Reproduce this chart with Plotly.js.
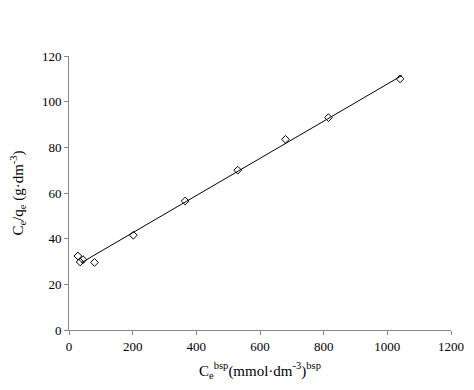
<!DOCTYPE html>
<html>
<head>
<meta charset="utf-8">
<script src="https://cdn.plot.ly/plotly-3.0.1.min.js"></script>
<style>html,body{margin:0;padding:0;background:#fff;}#chart{width:474px;height:390px;}</style>
</head>
<body>
<div id="chart"></div>
<script>
const ceValues = [28, 35, 44, 80, 202, 365, 530, 680, 815, 1040];
const ratioValues = [32.4, 29.8, 30.8, 29.6, 41.5, 56.5, 70.0, 83.5, 93.0, 110.0];
const fitX = [38, 1045];
const fitY = [29.4, 111.4];
const xTicks = [0, 200, 400, 600, 800, 1000, 1200];
const yTicks = [0, 20, 40, 60, 80, 100, 120];

const serif = "Liberation Serif, Times New Roman, serif";
const data = [
  {x: fitX, y: fitY, mode: 'lines', type: 'scatter', line: {color: '#000', width: 1}, hoverinfo: 'skip'},
  {x: ceValues, y: ratioValues, mode: 'markers', type: 'scatter',
   marker: {symbol: 'diamond-open', size: 6, color: '#000', line: {width: 1, color: '#000'}}}
];
const layout = {
  width: 474, height: 390,
  margin: {l: 69, r: 23, t: 56, b: 60},
  showlegend: false,
  paper_bgcolor: '#fff', plot_bgcolor: '#fff',
  font: {family: serif, size: 13, color: '#000'},
  xaxis: {
    range: [0, 1200], tickvals: xTicks, ticktext: xTicks.map(String),
    showgrid: false, zeroline: false, showline: true, linecolor: '#888', linewidth: 1,
    ticks: 'outside', ticklen: 4, tickcolor: '#888',
    tickfont: {family: serif, size: 13, color: '#000'},
    title: {text: 'C<sub>e</sub><sup>bsp</sup>(mmol·dm<sup>-3</sup>)<sup>bsp</sup>', font: {family: serif, size: 15, color: '#000'}, standoff: 12}
  },
  yaxis: {
    range: [0, 120], tickvals: yTicks, ticktext: yTicks.map(String),
    showgrid: false, zeroline: false, showline: true, linecolor: '#888', linewidth: 1,
    ticks: 'outside', ticklen: 4, tickcolor: '#888',
    tickfont: {family: serif, size: 13, color: '#000'},
    title: {text: 'C<sub>e</sub>/q<sub>e</sub> (g·dm<sup>-3</sup>)', font: {family: serif, size: 15, color: '#000'}, standoff: 14}
  }
};
Plotly.newPlot('chart', data, layout, {displayModeBar: false, staticPlot: true});
</script>
</body>
</html>
